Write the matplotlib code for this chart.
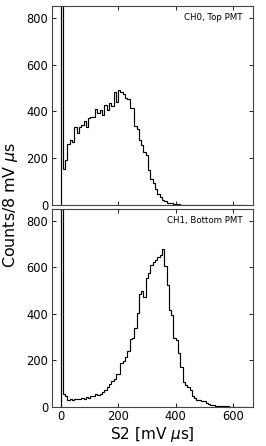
import numpy as np
import matplotlib
matplotlib.use("Agg")
import matplotlib.pyplot as plt

# S2 spectra, 8 mV us bins starting at 0 (first bin is the off-scale pedestal spike)
bin_width = 8
top_counts = [3000, 156, 192, 260, 280, 270, 335, 306, 335, 342, 360, 335, 370, 375,
              378, 409, 392, 406, 385, 428, 406, 435, 424, 481, 442, 492, 481, 475,
              456, 455, 414, 414, 338, 323, 278, 255, 228, 213, 149, 113, 94, 70,
              49, 34, 24, 16, 11, 9, 10, 6, 4, 3, 2, 2, 1, 1, 1, 1, 1, 0, 0, 1,
              0, 0, 0, 0, 0, 0, 0, 0, 0, 0, 0, 0, 0, 0, 0, 0, 0, 0]
bottom_counts = [3000, 56, 46, 31, 33, 31, 33, 36, 33, 37, 33, 41, 37, 46, 46, 57, 53,
                 56, 63, 74, 86, 97, 111, 121, 140, 144, 190, 197, 216, 240, 293, 297,
                 340, 404, 484, 500, 474, 553, 574, 610, 624, 631, 646, 653, 677, 606,
                 524, 417, 396, 296, 289, 231, 174, 106, 96, 86, 71, 46, 40, 31, 29,
                 27, 24, 17, 14, 9, 7, 6, 4, 4, 6, 6, 3, 1, 2, 1, 1, 1, 0, 0, 0]
labels = ["CH0, Top PMT", "CH1, Bottom PMT"]

fig = plt.figure(figsize=(2.66, 4.46), dpi=100)
ax_top = fig.add_axes([0.195, 0.540, 0.758, 0.4465])
ax_bot = fig.add_axes([0.195, 0.0874, 0.758, 0.4436])

for ax, counts, lab in zip([ax_top, ax_bot], [top_counts, bottom_counts], labels):
    edges = np.arange(len(counts) + 1) * bin_width
    ax.stairs(counts, edges, color='k', linewidth=0.85)
    ax.set_xlim(-30, 670)
    ax.set_ylim(0, 850)
    ax.set_xticks([0, 200, 400, 600])
    ax.set_yticks([0, 200, 400, 600, 800])
    ax.tick_params(direction='in', top=True, right=True, labelsize=8.3,
                   length=3, width=0.6, pad=2.5)
    for sp in ax.spines.values():
        sp.set_linewidth(0.8)
        sp.set_color('#444444')
    ax.text(0.945, 0.965, lab, transform=ax.transAxes, ha='right', va='top',
            fontsize=6.2)

ax_top.tick_params(labelbottom=False)
ax_bot.set_xlabel(r"S2 [mV $\mu$s]", fontsize=11, labelpad=1)
fig.text(0.04, 0.54, r"Counts/8 mV $\mu$s", rotation=90, ha='center',
         va='center', fontsize=11.4)

fig.savefig("out.png", dpi=100)
